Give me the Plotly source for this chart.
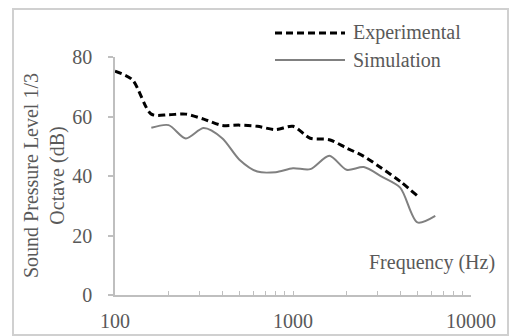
import plotly.graph_objects as go

freq = [100, 125, 160, 200, 250, 315, 400, 500, 630, 800, 1000, 1250,
        1600, 2000, 2500, 3150, 4000, 5000, 6300]
experimental = [75.2, 72.4, 60.8, 60.6, 60.8, 59.1, 57.0, 57.1, 56.7, 55.6,
                56.7, 52.7, 52.2, 49.4, 46.6, 42.6, 38.2, 33.3, None]
simulation = [None, None, 56.2, 57.1, 52.6, 56.1, 52.7, 45.5, 41.5, 41.3,
              42.6, 42.3, 46.8, 42.1, 43.0, 39.8, 36.1, 24.4, 26.6]
y_ticks = [0, 20, 40, 60, 80]
x_ticks = [100, 1000, 10000]
x_tick_labels = ["100", "1000", "10000"]

FONT = "Liberation Serif"
TXT = "#595959"
AX = "#bfbfbf"
BORDER = "#d0d0d0"
FS = 20

W, H = 509, 336
L, R, T, B = 115, 38, 57, 41
PW, PH = W - L - R, H - T - B


def px(x):
    return (x - L) / PW


def py(y):
    return (H - B - y) / PH


fig = go.Figure()
fig.add_trace(go.Scatter(
    x=freq, y=experimental, mode="lines", name="Experimental",
    line=dict(color="black", width=3, dash="7px,4px", shape="spline", smoothing=0.8),
    connectgaps=False, showlegend=False))
fig.add_trace(go.Scatter(
    x=freq, y=simulation, mode="lines", name="Simulation",
    line=dict(color="#808080", width=2, shape="spline", smoothing=0.8),
    connectgaps=False, showlegend=False))

fig.update_layout(
    width=W, height=H,
    margin=dict(l=L, r=R, t=T, b=B, autoexpand=False),
    paper_bgcolor="white", plot_bgcolor="white",
    font=dict(family=FONT, size=FS, color=TXT),
    xaxis=dict(
        type="log", range=[2, 4], tickvals=x_ticks, ticktext=x_tick_labels,
        showgrid=False, zeroline=False, showline=True, linecolor=AX, linewidth=1.5,
        ticks="inside", ticklen=4, tickcolor=AX, tickwidth=1,
        ticklabelstandoff=7,
        minor=dict(ticks="inside", ticklen=4, tickcolor=AX, tickwidth=1,
                   dtick="D1", showgrid=False),
        tickfont=dict(family=FONT, size=FS, color=TXT)),
    yaxis=dict(
        range=[0, 80], tickvals=y_ticks, showgrid=False, zeroline=False,
        showline=True, linecolor=AX, linewidth=1.5,
        ticks="outside", ticklen=5, tickcolor=AX, tickwidth=1.5,
        ticklabelstandoff=12,
        tickfont=dict(family=FONT, size=FS, color=TXT)),
)

# chart border
fig.add_shape(type="rect", xref="paper", yref="paper",
              x0=px(13), x1=px(W - 1), y0=py(H - 1), y1=py(9),
              line=dict(color=BORDER, width=2), layer="above")

# legend
fig.add_shape(type="line", xref="paper", yref="paper",
              x0=px(275), x1=px(345), y0=py(33), y1=py(33),
              line=dict(color="black", width=3, dash="7px,4px"))
fig.add_shape(type="line", xref="paper", yref="paper",
              x0=px(275), x1=px(345), y0=py(60), y1=py(60),
              line=dict(color="#808080", width=2))
fig.add_annotation(text="Experimental", xref="paper", yref="paper",
                   x=px(351), y=py(33), xanchor="left", yanchor="middle",
                   showarrow=False, font=dict(family=FONT, size=FS, color=TXT))
fig.add_annotation(text="Simulation", xref="paper", yref="paper",
                   x=px(351), y=py(60), xanchor="left", yanchor="middle",
                   showarrow=False, font=dict(family=FONT, size=FS, color=TXT))

# axis titles
fig.add_annotation(text="Frequency (Hz)", xref="paper", yref="paper",
                   x=px(497), y=py(262), xanchor="right", yanchor="middle",
                   showarrow=False, font=dict(family=FONT, size=FS, color=TXT))
fig.add_annotation(text="Sound Pressure Level 1/3<br>Octave (dB)",
                   xref="paper", yref="paper", x=px(44), y=py(176),
                   xanchor="center", yanchor="middle", textangle=-90,
                   showarrow=False, font=dict(family=FONT, size=FS, color=TXT))

fig.write_html("out.html")
